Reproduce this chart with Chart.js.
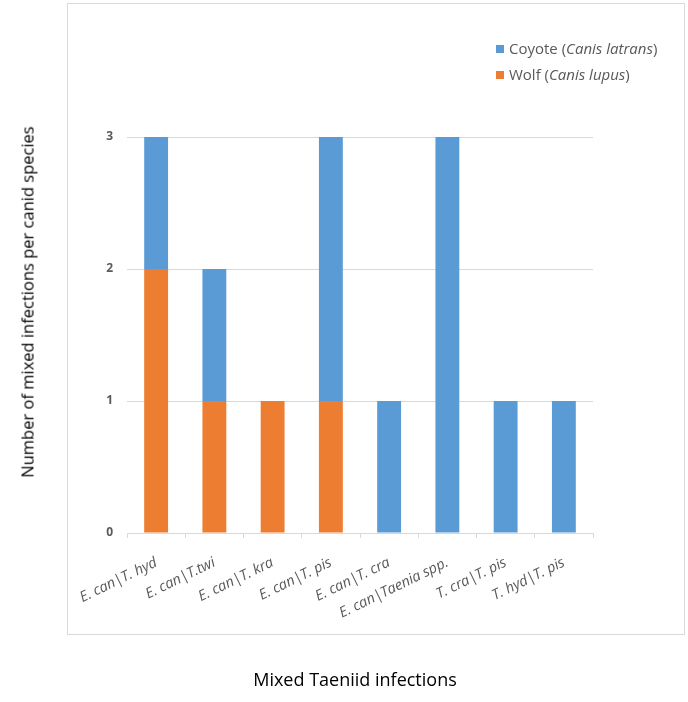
<!DOCTYPE html>
<html lang="en">
<head>
  <meta charset="UTF-8" />
  <title>Mixed Taeniid infections</title>
  <script src="https://cdn.jsdelivr.net/npm/chart.js"></script>
  <style>
    body {
      margin: 0;
      background: #ffffff;
      font-family: 'Open Sans', sans-serif;
    }
    .page {
      position: relative;
      width: 688px;
      height: 702px;
      overflow: hidden;
    }
    .frame {
      position: absolute;
      left: 67px;
      top: 3px;
      width: 618px;
      height: 632px;
      border: 1px solid #d9d9d9;
      box-sizing: border-box;
    }
    canvas { position: absolute; left: 0; top: 0; }
    .legend {
      position: absolute;
      left: 496px;
      top: 35px;
      font-size: 15px;
      color: #595959;
      line-height: 26px;
    }
    .legend span.box {
      display: inline-block;
      width: 8px;
      height: 8px;
      margin-right: 5px;
      vertical-align: 1px;
    }
    .ytitle {
      position: absolute;
      left: 27px;
      top: 302px;
      transform: translate(-50%, -50%) rotate(-90deg);
      white-space: nowrap;
      font-size: 16.5px;
      color: #000;
    }
    .xtitle {
      position: absolute;
      left: 355px;
      top: 679px;
      transform: translate(-50%, -50%);
      white-space: nowrap;
      font-size: 18px;
      color: #000;
    }
  </style>
</head>
<body>
<div class="page">
  <div class="frame"></div>
  <canvas id="chart" width="688" height="702"></canvas>
  <div class="legend">
    <div><span class="box" style="background:#5b9bd5"></span>Coyote (<i>Canis latrans</i>)</div>
    <div><span class="box" style="background:#ed7d31"></span>Wolf (<i>Canis lupus</i>)</div>
  </div>
  <div class="ytitle">Number of mixed infections per canid species</div>
  <div class="xtitle">Mixed Taeniid infections</div>
</div>

<script>
const categories = ['E. can|T. hyd', 'E. can|T.twi', 'E. can|T. kra', 'E. can|T. pis',
  'E. can|T. cra', 'E. can|Taenia spp.', 'T. cra|T. pis', 'T. hyd|T. pis'];
const wolfCounts = [2, 1, 1, 1, 0, 0, 0, 0];
const coyoteCounts = [1, 1, 0, 2, 1, 3, 1, 1];
const yTicks = [0, 1, 2, 3];

new Chart(document.getElementById('chart'), {
  type: 'bar',
  data: {
    labels: categories,
    datasets: [
      { label: 'Wolf (Canis lupus)', data: wolfCounts, backgroundColor: '#ed7d31' },
      { label: 'Coyote (Canis latrans)', data: coyoteCounts, backgroundColor: '#5b9bd5' }
    ]
  },
  options: {
    responsive: false,
    animation: false,
    layout: { padding: { left: 87, right: 95, top: 137, bottom: 69 } },
    datasets: { bar: { categoryPercentage: 1, barPercentage: 0.41 } },
    plugins: { legend: { display: false }, tooltip: { enabled: false } },
    scales: {
      x: {
        stacked: true,
        afterFit: (s) => { s.height = 100; },
        grid: { offset: true, drawOnChartArea: false, drawTicks: true, tickLength: 5, color: '#d9d9d9' },
        border: { color: '#d9d9d9' },
        ticks: {
          minRotation: 26, maxRotation: 26, padding: 16,
          color: '#595959',
          font: { family: 'Open Sans', size: 14.5, style: 'italic' }
        }
      },
      y: {
        stacked: true,
        min: 0, max: 3,
        afterFit: (s) => { s.width = 40; },
        afterBuildTicks: (s) => { s.ticks = yTicks.map(v => ({ value: v })); },
        grid: { color: '#d9d9d9', drawTicks: false },
        border: { display: false },
        ticks: {
          padding: 14,
          color: '#595959',
          font: { family: 'Open Sans', size: 12, weight: 'bold' }
        }
      }
    }
  }
});
</script>
</body>
</html>
